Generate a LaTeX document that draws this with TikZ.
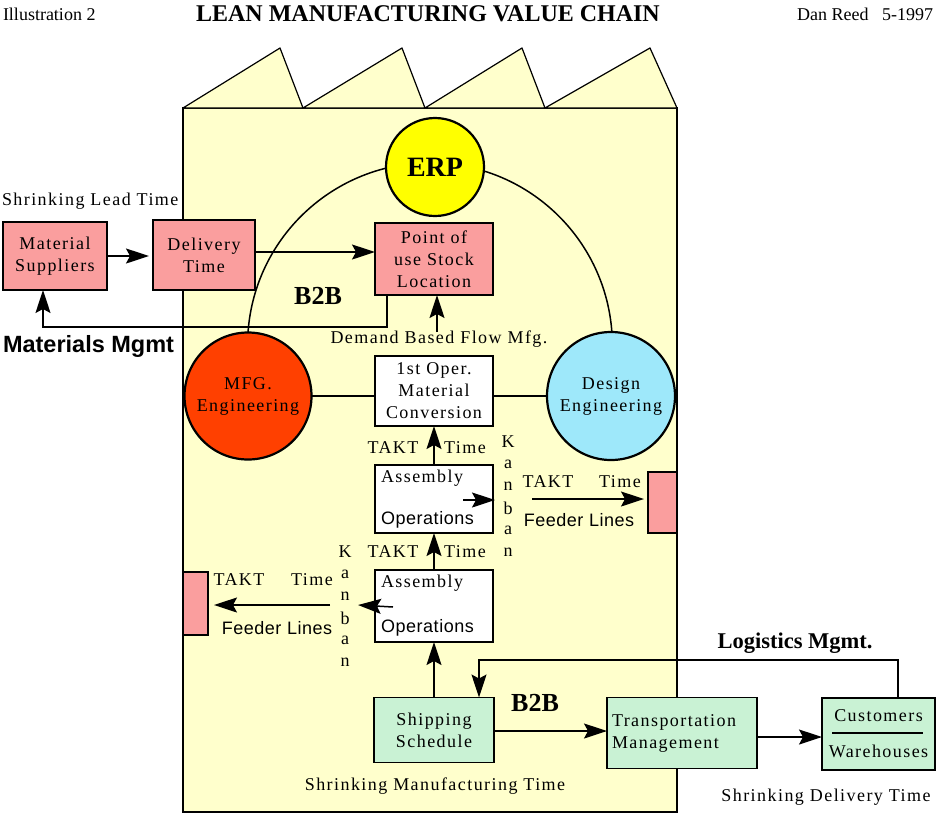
\documentclass[tikz,border=0pt]{standalone}
\usepackage{fontspec}
\setmainfont{Liberation Serif}
\setsansfont{Liberation Sans}
\newfontfamily\spfont{Liberation Serif}[LetterSpace=8]
\newfontfamily\spsans{Liberation Sans}[LetterSpace=3]
\usetikzlibrary{arrows.meta,calc}
\definecolor{factc}{HTML}{FFFFCC}
\definecolor{pinkc}{HTML}{FA9E9E}
\definecolor{greenc}{HTML}{C9F2D4}
\definecolor{mfgc}{HTML}{FF4000}
\definecolor{desc}{HTML}{9EE8FA}
\definecolor{erpc}{HTML}{FFFF00}
\tikzset{
  every node/.style={inner sep=0pt, outer sep=0pt},
  txt/.style={font=\spfont\fontsize{18}{22}\selectfont, align=center},
  sanstxt/.style={font=\spsans\fontsize{18}{22}\selectfont, align=center},
  box/.style={draw, line width=1.6pt, font=\spfont\fontsize{18}{22}\selectfont, align=center},
  pinkbox/.style={box, fill=pinkc},
  whitebox/.style={box, fill=white},
  greenbox/.style={box, fill=greenc},
  circ/.style={circle, draw, line width=2.2pt, font=\spfont\fontsize{18}{22}\selectfont, align=center},
  conn/.style={line width=1.5pt},
  arr/.style={conn, -{Stealth[length=23pt,width=15pt,inset=4pt]}},
  boldtxt/.style={font=\bfseries\fontsize{#1}{#1}\selectfont},
}
\begin{document}
\begin{tikzpicture}[x=1pt,y=-1pt]
\useasboundingbox (0,0) rectangle (937,815);
% factory
\draw[fill=factc, line width=1.4pt] (183,108) rectangle (677,812);
\foreach \a/\p/\b in {183/280/303, 303/402/425, 425/522/545, 545/650/677}
  \draw[fill=factc, line width=1.2pt, line join=round] (\a,108) -- (\p,48) -- (\b,108) -- cycle;
% circles
\node[circ, fill=mfgc, minimum size=127pt] (mfg) at (248,396) {MFG.\\Engineering};
\node[circ, fill=desc, minimum size=128pt] (des) at (611,396) {Design\\Engineering};
\draw[conn] (mfg.north) arc[start angle=176, end angle=4, radius=182.4pt];
\node[circ, fill=erpc, minimum size=98pt, font=\bfseries\fontsize{28}{30}\selectfont] (erp) at (435,167) {ERP};
% boxes
\node[pinkbox, minimum width=104pt, minimum height=68pt] (ms) at (55,256) {Material\\Suppliers};
\node[pinkbox, minimum width=102pt, minimum height=70pt] (dt) at (204,255) {Delivery\\Time};
\node[pinkbox, minimum width=118pt, minimum height=72pt] (pu) at (434,259) {Point of\\use Stock\\Location};
\node[whitebox, minimum width=118pt, minimum height=70pt] (op1) at (434,391) {1st Oper.\\Material\\Conversion};
\node[whitebox, minimum width=118pt, minimum height=68pt, text width=106pt, align=left] (as1) at (434,499) {Assembly\\[20pt]{\spsans\fontsize{18}{22}\selectfont Operations}};
\node[whitebox, minimum width=118pt, minimum height=72pt, text width=106pt, align=left] (as2) at (434,606) {Assembly\\[23pt]{\spsans\fontsize{18}{22}\selectfont Operations}};
\node[greenbox, minimum width=120pt, minimum height=65pt] (ship) at (434,730) {Shipping\\Schedule};
\node[greenbox, minimum width=150pt, minimum height=71pt, text width=140pt, align=left] (trans) at (682,733) {Transportation\\Management};
\node[greenbox, minimum width=113pt, minimum height=72pt] (cust) at (878.5,734) {Customers\\[14pt]Warehouses};
\draw[line width=1.5pt] ($(cust.west)+(10,-1)$) -- ($(cust.east)+(-12,-1)$);
\node[draw, line width=1.4pt, fill=pinkc, minimum width=29pt, minimum height=61pt] (fr) at (662.5,502.5) {};
\node[draw, line width=1.4pt, fill=pinkc, minimum width=25pt, minimum height=63pt] (fl) at (195.5,603.5) {};
% connectors
\draw[arr] (ms.east) -- ([xshift=-4pt]ms.east -| dt.west);
\draw[arr] ([yshift=3pt]dt.east) -- ([yshift=3pt]dt.east -| pu.west);
\coordinate (fbc) at (43,327);
\draw[arr] ([xshift=12pt]pu.south west) |- (fbc) -- (fbc |- ms.south);
\coordinate (dem) at (437,332);
\draw[arr] (dem) -- (dem |- pu.south);
\draw[conn] (mfg.east) -- (mfg.east -| op1.west);
\draw[conn] (op1.east |- des.west) -- (des.west);
\draw[arr] (as1.north) -- (op1.south);
\draw[arr] (as2.north) -- (as1.south);
\draw[arr] (ship.north) -- (as2.south);
\draw[arr] ([xshift=-30pt,yshift=-1pt]as1.east) -- ([xshift=2pt,yshift=-1pt]as1.east);
\coordinate (frs) at (532,499);
\draw[arr] (frs) -- ([xshift=-4pt]frs -| fr.west);
\coordinate (kl) at (358,605);
\draw[arr] ([xshift=18pt,yshift=-1pt]as2.west) -- (kl);
\coordinate (fls) at (330,605);
\draw[arr] (fls) -- ([xshift=6pt]fls -| fl.east);
\draw[arr] ([yshift=-1pt]ship.east) -- ([yshift=-1pt]ship.east -| trans.west);
\draw[arr] ([yshift=-4pt]trans.east) -- ([yshift=-4pt]trans.east -| cust.west);
\coordinate (lgc) at (479,660);
\draw[arr] ([xshift=19.5pt]cust.north) |- (lgc) -- (lgc |- ship.north);
% texts
\node[boldtxt=24] (title) at (428,14) {LEAN MANUFACTURING VALUE CHAIN};
\node[font=\fontsize{18}{20}\selectfont, anchor=west] (ill) at (3,14) {Illustration 2};
\node[font=\fontsize{18}{20}\selectfont, anchor=east] (dan) at (933,14) {Dan Reed\ \ \ 5-1997};
\node[txt, anchor=west] (slt) at (2,201) {Shrinking Lead Time};
\node[font=\sffamily\bfseries\fontsize{23.5}{24}\selectfont, anchor=west] (mm) at (3,346) {Materials Mgmt};
\node[boldtxt=26] (b2b1) at (318,296) {B2B};
\node[boldtxt=26] (b2b2) at (535,703) {B2B};
\node[txt] (dbf) at (439,339) {Demand Based Flow Mfg.};
\node[txt] (t1a) at (393,448) {TAKT};
\node[txt] (t1b) at (465,448) {Time};
\node[txt] (t2a) at (393,552) {TAKT};
\node[txt] (t2b) at (465,552) {Time};
\node[txt] (t3a) at (548,482) {TAKT};
\node[txt] (t3b) at (620,482) {Time};
\node[sanstxt] (fd1) at (579,520) {Feeder Lines};
\node[txt] (t4a) at (239,580) {TAKT};
\node[txt] (t4b) at (312,580) {Time};
\node[sanstxt] (fd2) at (277,628) {Feeder Lines};
\foreach \l [count=\i] in {K,a,n,b,a,n} {
  \node[txt] (kr\i) at (508,{442+22*(\i-1)}) {\l};
  \node[txt] (kl\i) at (345,{552+22*(\i-1)}) {\l};
}
\node[boldtxt=22.5] (lm) at (795,643) {Logistics Mgmt.};
\node[txt] (smt) at (435,786) {Shrinking Manufacturing Time};
\node[txt] (sdt) at (826,797) {Shrinking Delivery Time};
\end{tikzpicture}
\end{document}
